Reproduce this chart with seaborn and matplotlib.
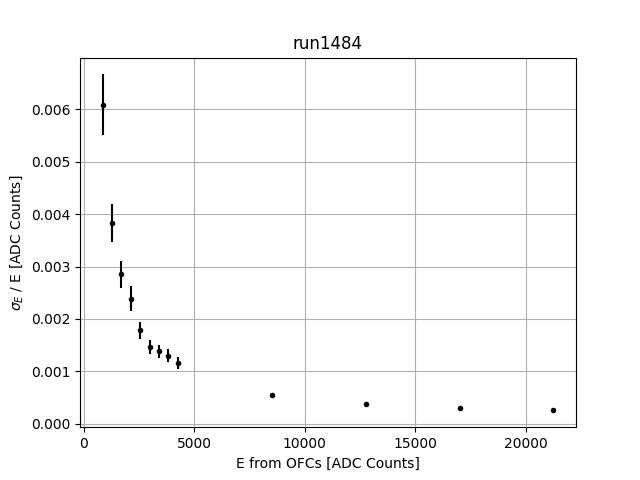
import matplotlib
matplotlib.use("Agg")
import matplotlib.pyplot as plt
from matplotlib.ticker import MultipleLocator
import seaborn as sns
import pandas as pd

energy = [850, 1275, 1700, 2125, 2550, 2975, 3400, 3825, 4250, 8500, 12750, 17000, 21250]
resolution = [0.00609, 0.00383, 0.00285, 0.00239, 0.00178, 0.00146, 0.00138, 0.00130, 0.00116,
              0.00055, 0.000377, 0.000300, 0.000262]
resolution_err = [0.00058, 0.00036, 0.00026, 0.00023, 0.00017, 0.00013, 0.00012, 0.00012, 0.00011,
                  0.00002, 0.000012, 0.00001, 0.000008]

df = pd.DataFrame({"E": energy, "res": resolution, "err": resolution_err})

fig, ax = plt.subplots(figsize=(6.4, 4.8), dpi=100)
ax.errorbar(df["E"], df["res"], yerr=df["err"], fmt="none", ecolor="black", elinewidth=1.5)
sns.scatterplot(data=df, x="E", y="res", ax=ax, color="black", marker="o", s=16,
                linewidth=0, zorder=3)
ax.xaxis.set_major_locator(MultipleLocator(5000))
ax.grid(True)
ax.set_axisbelow(True)
ax.set_title("run1484")
ax.set_xlabel("E from OFCs [ADC Counts]")
ax.set_ylabel(r"$\sigma_E$ / E [ADC Counts]")
fig.savefig("out.png", dpi=100)
